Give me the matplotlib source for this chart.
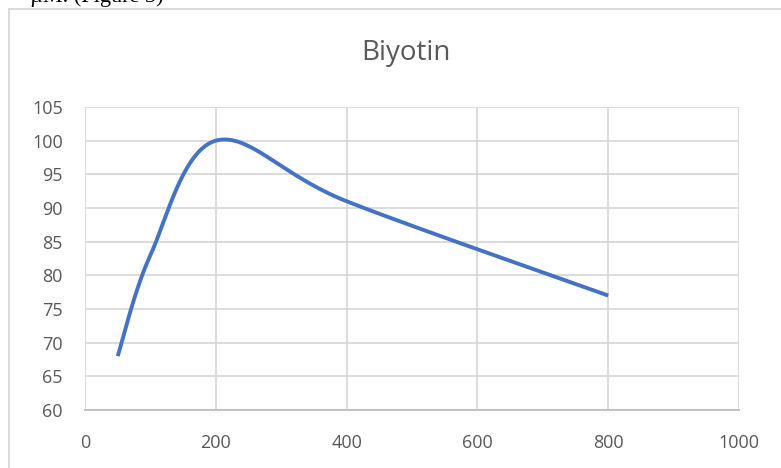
import numpy as np
import matplotlib
matplotlib.use("Agg")
import matplotlib.pyplot as plt
from matplotlib.lines import Line2D

# data
conc = [50, 100, 200, 400, 800]
values = [68, 83, 100, 91, 77]
title = "Biyotin"
xticks = [0, 200, 400, 600, 800, 1000]
yticks = [60, 65, 70, 75, 80, 85, 90, 95, 100, 105]


def smooth(xs, ys, n=60):
    # excel-like smoothed line: cubic bezier, control points from neighbours / 6
    p = np.column_stack([xs, ys]).astype(float)
    out = [p[0]]
    for i in range(len(p) - 1):
        a = p[i - 1] if i > 0 else p[i]
        d = p[i + 2] if i + 2 < len(p) else p[i + 1]
        c1 = p[i] + (p[i + 1] - a) / 6
        c2 = p[i + 1] - (d - p[i]) / 6
        t = np.linspace(0, 1, n)[1:, None]
        seg = ((1 - t) ** 3 * p[i] + 3 * (1 - t) ** 2 * t * c1
               + 3 * (1 - t) * t ** 2 * c2 + t ** 3 * p[i + 1])
        out.extend(seg)
    out = np.array(out)
    return out[:, 0], out[:, 1]


fig = plt.figure(figsize=(7.81, 4.68), dpi=100)
W, H = 781, 468
ax = fig.add_axes([85 / W, 1 - 410 / H, (739 - 85) / W, (410 - 107) / H])

sx, sy = smooth(conc, values)
ax.plot(sx, sy, color="#4472C4", lw=2.8, solid_capstyle="butt", zorder=3)

ax.set_xlim(0, 1000)
ax.set_ylim(60, 105)
ax.set_xticks(xticks)
ax.set_yticks(yticks)
ax.grid(True, color="#D9D9D9", lw=1.3)
ax.set_axisbelow(True)
for s in ["top", "right", "left"]:
    ax.spines[s].set_visible(False)
ax.spines["bottom"].set_color("#BFBFBF")
ax.spines["bottom"].set_linewidth(1.3)
ax.tick_params(length=0, labelsize=13, labelcolor="#595959")
ax.tick_params(axis="y", pad=16)
ax.tick_params(axis="x", pad=17)
for lab in ax.get_xticklabels() + ax.get_yticklabels():
    lab.set_fontfamily("Open Sans")

fig.text(406 / W, 1 - 53 / H, title, ha="center", va="center",
         fontsize=20, color="#595959", family="Open Sans")

# chart frame (left and top edges visible)
fig.add_artist(Line2D([8.5 / W, 8.5 / W], [0, 1 - 9 / H], color="#D9D9D9", lw=1.3))
fig.add_artist(Line2D([8.5 / W, 1], [1 - 9 / H, 1 - 9 / H], color="#D9D9D9", lw=1.3))

# clipped text line from the page above the chart
fig.text(30 / W, 1 - 2 / H, "µM. (Figure 3)", ha="left", va="baseline",
         fontsize=16, color="black", family="Liberation Serif")

fig.savefig("out.png", dpi=100)
